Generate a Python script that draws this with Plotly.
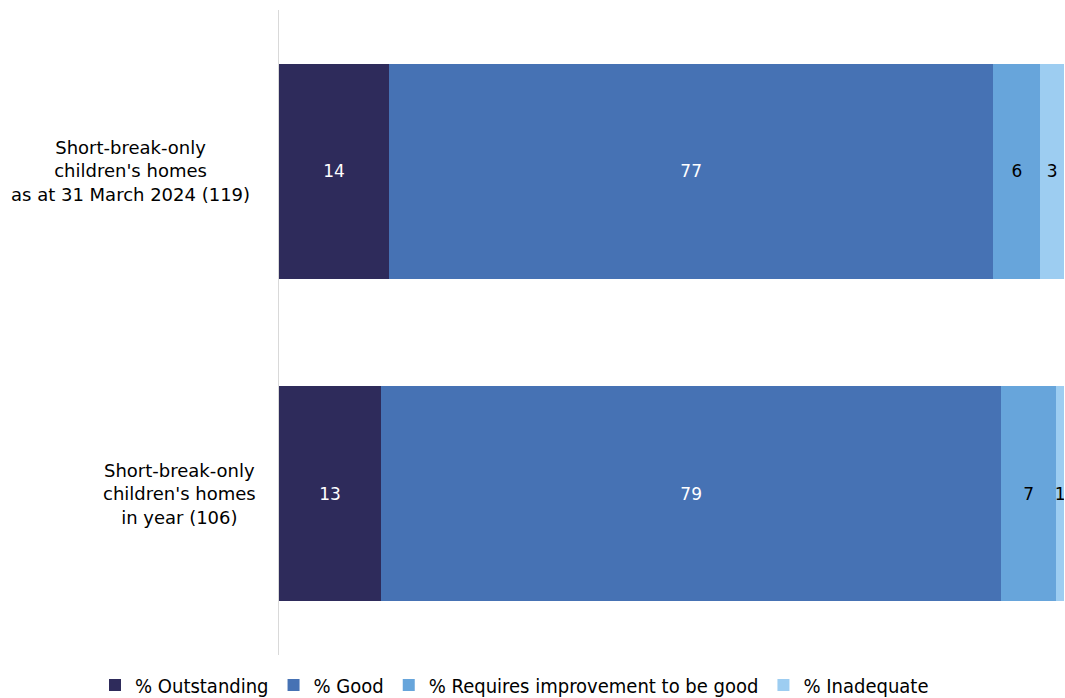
import plotly.graph_objects as go

categories = [
    "Short-break-only<br>children's homes<br>as at 31 March 2024 (119)",
    "Short-break-only<br>children's homes<br>in year (106)",
]
series_names = ["% Outstanding", "% Good", "% Requires improvement to be good", "% Inadequate"]
outstanding = [14, 13]
good = [77, 79]
requires_improvement = [6, 7]
inadequate = [3, 1]
series_values = [outstanding, good, requires_improvement, inadequate]

colors = ["#2E2B5B", "#4672B4", "#67A5DB", "#9DCDF1"]
text_colors = ["white", "white", "black", "black"]

label_centers_px = [130, 179]

FONT = "DejaVu Sans"
W, H = 1065, 698
L, T = 279, 10
pw, ph = 785, 645
R = W - L - pw
B = H - T - ph

fig = go.Figure()
for name, vals, c, tc in zip(series_names, series_values, colors, text_colors):
    fig.add_trace(go.Bar(
        y=categories, x=vals, name=name, orientation="h",
        marker=dict(color=c, line=dict(width=0)),
        text=[str(v) for v in vals], textposition="inside",
        insidetextanchor="middle", constraintext="none",
        textfont=dict(color=tc, size=17, family=FONT),
        hoverinfo="x+name",
    ))

for cat, cx in zip(categories, label_centers_px):
    fig.add_annotation(
        text=cat, xref="paper", yref="y", x=(cx - L) / pw, y=cat,
        xanchor="center", yanchor="middle", align="center", showarrow=False,
        font=dict(size=18, family=FONT, color="#000000"),
    )

fig.update_layout(
    width=W, height=H, barmode="stack", bargap=0.333,
    plot_bgcolor="white", paper_bgcolor="white",
    margin=dict(l=L, r=R, t=T, b=B, autoexpand=False),
    font=dict(family=FONT, size=17, color="#000000"),
    xaxis=dict(range=[0, 100], showgrid=False, zeroline=False, showticklabels=False, showline=False, fixedrange=True),
    yaxis=dict(autorange="reversed", showticklabels=False, showgrid=False, zeroline=False,
               showline=True, linecolor="#D9D9D9", linewidth=1, ticks=""),
    legend=dict(orientation="h", x=(95 - L) / pw, xanchor="left",
                yanchor="middle", y=-(685 - (T + ph)) / ph,
                font=dict(family="DejaVu Sans Condensed", size=20),
                itemwidth=30, traceorder="normal"),
    showlegend=True,
)

fig.write_html(
    "out.html",
    config={"displayModeBar": False},
    post_script="document.body.style.margin='0';document.body.style.overflow='hidden';",
)
